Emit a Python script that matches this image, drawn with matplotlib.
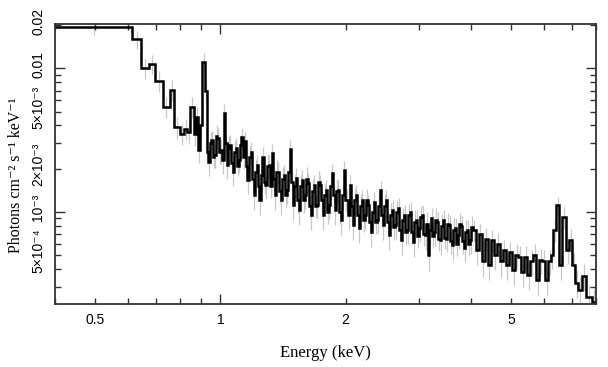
import matplotlib
matplotlib.use('Agg')
import matplotlib.pyplot as plt
import matplotlib.transforms as mtransforms
import numpy as np
from matplotlib.ticker import FixedLocator, FuncFormatter

plt.rcParams['font.family'] = ['Liberation Sans', 'DejaVu Sans']

# ---- data: bin edges (keV) and flux (photons cm^-2 s^-1 keV^-1) ----
edges_low = [0.400, 0.614, 0.644, 0.672, 0.697, 0.726, 0.756, 0.775, 0.801, 0.816,
             0.833, 0.847, 0.863, 0.875, 0.885, 0.895, 0.905]
# finely binned part (two sub-bins per group below 4.05 keV)
edges_mid = [0.920, 0.927, 0.935, 0.943, 0.951, 0.959, 0.967, 0.975, 0.983, 0.991,
             1.000, 1.008, 1.017, 1.025, 1.034, 1.042, 1.051, 1.060, 1.069, 1.078,
             1.087, 1.096, 1.105, 1.114, 1.123, 1.132, 1.142, 1.151, 1.161, 1.171,
             1.181, 1.191, 1.201, 1.211, 1.221, 1.231, 1.241, 1.251, 1.262, 1.272,
             1.283, 1.294, 1.305, 1.316, 1.327, 1.338, 1.349, 1.360, 1.372, 1.383,
             1.395, 1.406, 1.418, 1.430, 1.442, 1.454, 1.466, 1.478, 1.491, 1.503,
             1.516, 1.528, 1.541, 1.554, 1.567, 1.580, 1.593, 1.606, 1.620, 1.633,
             1.647, 1.661, 1.675, 1.689, 1.703, 1.717, 1.732, 1.746, 1.761, 1.775,
             1.790, 1.805, 1.820, 1.835, 1.851, 1.866, 1.882, 1.897, 1.913, 1.929,
             1.946, 1.962, 1.978, 1.994, 2.011, 2.028, 2.045, 2.062, 2.080, 2.097,
             2.114, 2.132, 2.150, 2.168, 2.186, 2.204, 2.223, 2.241, 2.260, 2.279,
             2.298, 2.317, 2.336, 2.356, 2.376, 2.396, 2.416, 2.436, 2.456, 2.476,
             2.497, 2.518, 2.539, 2.560, 2.582, 2.603, 2.625, 2.647, 2.669, 2.691,
             2.714, 2.737, 2.760, 2.783, 2.806, 2.829, 2.853, 2.877, 2.901, 2.925,
             2.950, 2.974, 2.999, 3.024, 3.049, 3.075, 3.101, 3.127, 3.153, 3.179,
             3.206, 3.232, 3.259, 3.286, 3.314, 3.342, 3.370, 3.398, 3.426, 3.455,
             3.484, 3.513, 3.542, 3.572, 3.602, 3.632, 3.662, 3.693, 3.724, 3.755,
             3.786, 3.818, 3.850, 3.882, 3.914, 3.947, 3.980, 4.013,
             4.047, 4.115, 4.184, 4.254, 4.325, 4.398, 4.472, 4.547, 4.623, 4.701,
             4.780, 4.860, 4.941, 5.024, 5.109, 5.194, 5.282, 5.370, 5.460, 5.552,
             5.645, 5.740, 5.836, 5.934, 6.034]
edges_high = [6.135, 6.24, 6.31, 6.42, 6.52, 6.63, 6.78, 6.90, 7.01, 7.13, 7.25,
              7.41, 7.58, 7.83, 8.01]

flux_low = [0.0195, 0.0160, 0.0101, 0.0108, 0.0082, 0.0054, 0.0071, 0.0039, 0.0035,
            0.0038, 0.0036, 0.0054, 0.0035, 0.0046, 0.0027, 0.0040, 0.0111]
flux_mid = [0.0070, 0.0026, 0.00221, 0.0030, 0.00316, 0.0024, 0.00248, 0.0034,
            0.00326, 0.0026, 0.0027, 0.00229, 0.0049, 0.0030, 0.00211, 0.0028,
            0.00292, 0.0022, 0.00189, 0.0026, 0.0028, 0.0021, 0.00229, 0.0029,
            0.0033, 0.0024, 0.0031, 0.0021, 0.00166, 0.0024, 0.0026, 0.0017,
            0.00131, 0.0019, 0.00211, 0.0015, 0.00121, 0.0018, 0.0024, 0.0016,
            0.00153, 0.0021, 0.00211, 0.0015, 0.00255, 0.0017, 0.00131, 0.0019,
            0.00189, 0.0014, 0.00121, 0.0017, 0.0018, 0.0013, 0.00142, 0.0019,
            0.00272, 0.0016, 0.00111, 0.0015, 0.00171, 0.0012, 0.00103, 0.0015,
            0.00166, 0.0012, 0.00131, 0.0017, 0.00158, 0.0011, 0.00095, 0.0014,
            0.00153, 0.0011, 0.00111, 0.0016, 0.00153, 0.0012, 0.00095, 0.0013,
            0.00142, 0.0010, 0.00111, 0.0015, 0.00186, 0.0013, 0.00103, 0.0014,
            0.00142, 0.0010, 0.000875, 0.0013, 0.00195, 0.0012, 0.00121, 0.00095,
            0.00153, 0.0011, 0.000807, 0.0012, 0.00131, 0.00095, 0.00077, 0.0011,
            0.00121, 0.00088, 0.00095, 0.0012, 0.00111, 0.00085, 0.00072, 0.0010,
            0.00116, 0.00085, 0.000875, 0.0011, 0.00142, 0.00095, 0.000807, 0.0011,
            0.00121, 0.00085, 0.000687, 0.00095, 0.00103, 0.00078, 0.000807, 0.0010,
            0.00106, 0.00075, 0.000635, 0.00088, 0.00095, 0.00072, 0.000745, 0.00095,
            0.0010, 0.00072, 0.000615, 0.00085, 0.000875, 0.00068, 0.00077, 0.00092,
            0.00095, 0.00070, 0.000687, 0.00082, 0.000498, 0.00075, 0.0009, 0.00068,
            0.00072, 0.00088, 0.00085, 0.00065, 0.000635, 0.00080, 0.000875, 0.00066,
            0.00065, 0.00082, 0.000807, 0.00062, 0.000585, 0.00075, 0.00077, 0.00060,
            0.000687, 0.00082, 0.00079, 0.00062, 0.00056, 0.00072, 0.000745, 0.00060,
            0.000635, 0.00078,
            0.000745, 0.000541, 0.0007, 0.00045, 0.00065, 0.000425, 0.000635, 0.000498,
            0.0006, 0.00045, 0.000541, 0.000425, 0.00052, 0.000392, 0.000498, 0.00048,
            0.00038, 0.00048, 0.000362, 0.00045, 0.000498, 0.000334, 0.000461, 0.00045,
            0.000334]
flux_high = [0.00045, 0.0005, 0.000745, 0.00111, 0.000425, 0.00092, 0.00054, 0.000635,
             0.000425, 0.00032, 0.000285, 0.000356, 0.000254, 0.000235]

# relative 1-sigma errors
relerr_low = [0.12, 0.14, 0.16, 0.15, 0.16, 0.17, 0.17, 0.17, 0.17, 0.17, 0.18, 0.17,
              0.18, 0.17, 0.19, 0.18, 0.16]
relerr_mid = [0.17, 0.20, 0.16, 0.19, 0.17, 0.20, 0.15, 0.20, 0.17, 0.20, 0.16, 0.19,
              0.17, 0.16, 0.20, 0.17, 0.21, 0.17, 0.21, 0.17, 0.20, 0.17, 0.16, 0.21,
              0.18, 0.21, 0.17, 0.20, 0.16, 0.21, 0.18, 0.21, 0.18, 0.20, 0.17, 0.21,
              0.17, 0.20, 0.17, 0.21, 0.18, 0.20, 0.16, 0.21, 0.18, 0.21, 0.16, 0.20,
              0.17, 0.21, 0.18, 0.21, 0.18, 0.20, 0.17, 0.21, 0.18, 0.20, 0.16, 0.21,
              0.18, 0.21, 0.18, 0.20, 0.17, 0.21, 0.18, 0.20, 0.17, 0.21, 0.18, 0.20,
              0.18, 0.21, 0.22, 0.18, 0.20, 0.18, 0.21, 0.17, 0.20, 0.18, 0.21, 0.18,
              0.20, 0.18, 0.21, 0.18, 0.20,
              0.18, 0.21, 0.18, 0.22, 0.18, 0.22, 0.18, 0.21, 0.18, 0.22, 0.18, 0.22,
              0.18, 0.22, 0.20, 0.20, 0.22, 0.20, 0.22, 0.20, 0.20, 0.22, 0.20, 0.20,
              0.22]
relerr_high = [0.20, 0.20, 0.18, 0.15, 0.22, 0.17, 0.20, 0.20, 0.22, 0.22, 0.22, 0.22,
               0.22, 0.22]

edges = np.array(edges_low + edges_mid + edges_high)
flux = np.array(flux_low + flux_mid + flux_high)
# first 89 error groups cover two sub-bins each
relerr = np.array(relerr_low
                  + list(np.repeat(relerr_mid[:89], 2))
                  + relerr_mid[89:] + relerr_high)

x_major = [1.0]
x_minor = [0.4, 0.5, 0.6, 0.7, 0.8, 0.9, 2, 3, 4, 5, 6, 7, 8]
x_labels = {0.5: '0.5', 1.0: '1', 2.0: '2', 5.0: '5'}
y_major = [1e-3, 1e-2]
y_minor = [3e-4, 4e-4, 5e-4, 6e-4, 7e-4, 8e-4, 9e-4,
           2e-3, 3e-3, 4e-3, 5e-3, 6e-3, 7e-3, 8e-3, 9e-3, 2e-2]
y_labels = {5e-4: '5×10⁻⁴', 1e-3: '10⁻³', 2e-3: '2×10⁻³', 5e-3: '5×10⁻³',
            1e-2: '0.01', 2e-2: '0.02'}

# ---- figure ----
W, H = 608, 367
fig = plt.figure(figsize=(W / 100, H / 100), dpi=100)
left, right, top, bottom = 55, 596, 24, 304.3
ax = fig.add_axes([left / W, 1 - bottom / H, (right - left) / W, (bottom - top) / H])
ax.set_xscale('log')
ax.set_yscale('log')

centers = np.sqrt(edges[:-1] * edges[1:])
ax.vlines(centers, flux * (1 - relerr), flux * (1 + relerr), color='#c8c8c8',
          lw=0.9, zorder=1)
ax.stairs(flux, edges, baseline=None, color='black', lw=1.8, zorder=2)

ax.set_xlim(0.4, 8.0)
ax.set_ylim(2.26e-4, 0.0204)

ax.xaxis.set_major_locator(FixedLocator(x_major))
ax.xaxis.set_minor_locator(FixedLocator(x_minor))
ax.yaxis.set_major_locator(FixedLocator(y_major))
ax.yaxis.set_minor_locator(FixedLocator(y_minor))

def fx(v, pos):
    for k, s in x_labels.items():
        if abs(v - k) < 1e-6:
            return s
    return ''

def fy(v, pos):
    for k, s in y_labels.items():
        if abs(v / k - 1) < 1e-6:
            return s
    return ''

ax.xaxis.set_major_formatter(FuncFormatter(fx))
ax.xaxis.set_minor_formatter(FuncFormatter(fx))
ax.yaxis.set_major_formatter(FuncFormatter(fy))
ax.yaxis.set_minor_formatter(FuncFormatter(fy))

ax.tick_params(which='both', direction='in', top=True, right=True,
               color='#333333', width=1.0, labelsize=10)
ax.tick_params(which='major', length=7)
ax.tick_params(which='minor', length=4)
ax.tick_params(axis='x', which='both', pad=6)
ax.tick_params(axis='y', which='both', pad=7, labelrotation=90)

for sp in ax.spines.values():
    sp.set_color('#333333')
    sp.set_linewidth(1.3)

serif = ['Liberation Serif', 'DejaVu Serif']
ax.set_xlabel('Energy (keV)', family=serif, fontsize=12)
ax.set_ylabel('Photons cm⁻² s⁻¹ keV⁻¹', family=serif, fontsize=11.5)
ax.xaxis.set_label_coords(0.5, -0.145)
ax.yaxis.set_label_coords(-0.058, 0.46)

fig.canvas.draw()
shift = mtransforms.ScaledTranslation(0, 4 / 100, fig.dpi_scale_trans)
for lbl in ax.get_yticklabels(which='both'):
    lbl.set_va('center')
    lbl.set_transform(lbl.get_transform() + shift)

fig.savefig('out.png', dpi=100)
